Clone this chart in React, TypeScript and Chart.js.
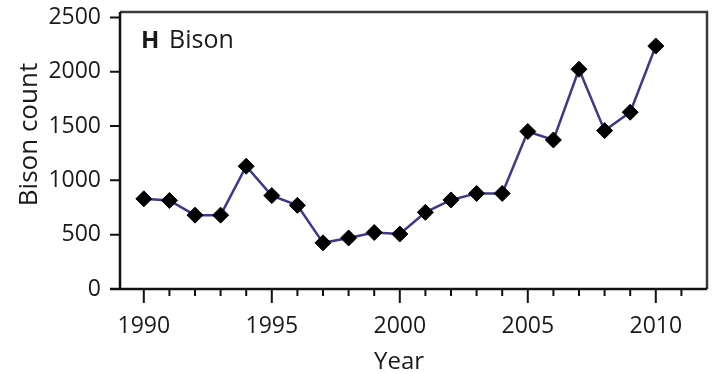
import React, { useEffect, useRef } from "react";
import { Chart, registerables } from "chart.js";

Chart.register(...registerables);

const years = [1990, 1991, 1992, 1993, 1994, 1995, 1996, 1997, 1998, 1999, 2000, 2001, 2002, 2003, 2004, 2005, 2006, 2007, 2008, 2009, 2010];
const bisonCount = [830, 815, 680, 680, 1130, 860, 770, 425, 470, 520, 506, 706, 820, 880, 880, 1450, 1372, 2023, 1458, 1627, 2237];
const yTickValues = [0, 500, 1000, 1500, 2000, 2500];
const xTickYears = [1990, 1991, 1992, 1993, 1994, 1995, 1996, 1997, 1998, 1999, 2000, 2001, 2002, 2003, 2004, 2005, 2006, 2007, 2008, 2009, 2010, 2011];
const xLabelYears = [1990, 1995, 2000, 2005, 2010];
const panelLetter = "H";
const panelName = "Bison";
const xTitle = "Year";
const yTitle = "Bison count";

const FONT = "'Open Sans', 'Noto Sans', sans-serif";

const decorPlugin = {
  id: "decor",
  beforeDatasetsDraw(chart: any) {
    const { ctx, chartArea } = chart;
    const xs = chart.scales.x;
    const ys = chart.scales.y;
    const { left, right, top, bottom } = chartArea;
    ctx.save();
    ctx.strokeStyle = "#3a3a3a";
    ctx.lineWidth = 2.5;
    ctx.beginPath();
    ctx.moveTo(left, top);
    ctx.lineTo(right, top);
    ctx.lineTo(right, bottom);
    ctx.stroke();
    ctx.strokeStyle = "#111";
    ctx.lineWidth = 2.5;
    ctx.beginPath();
    ctx.moveTo(left - 10, bottom);
    ctx.lineTo(right, bottom);
    ctx.moveTo(left, bottom);
    ctx.lineTo(left, top);
    ctx.stroke();
    ctx.lineWidth = 2;
    ctx.beginPath();
    yTickValues.forEach((v) => {
      const y = ys.getPixelForValue(v);
      ctx.moveTo(left - 10, y);
      ctx.lineTo(left, y);
    });
    ctx.stroke();
    ctx.beginPath();
    xTickYears.forEach((yr) => {
      const x = xs.getPixelForValue(yr);
      const len = xLabelYears.includes(yr) ? 14 : 7;
      ctx.moveTo(x, bottom);
      ctx.lineTo(x, bottom + len);
    });
    ctx.stroke();
    ctx.restore();
  },
  afterDraw(chart: any) {
    const { ctx } = chart;
    ctx.save();
    ctx.fillStyle = "#1a1a1a";
    ctx.textBaseline = "alphabetic";
    ctx.textAlign = "left";
    ctx.font = `bold 24px ${FONT}`;
    ctx.fillText(panelLetter, 141, 48);
    ctx.font = `25px ${FONT}`;
    ctx.fillText(panelName, 169, 48);
    ctx.textAlign = "center";
    ctx.font = `24px ${FONT}`;
    ctx.fillText(xTitle, 399, 369);
    ctx.translate(37, 134.5);
    ctx.rotate(-Math.PI / 2);
    ctx.font = `26px ${FONT}`;
    ctx.fillText(yTitle, 0, 0);
    ctx.restore();
  },
};

export default function App() {
  const ref = useRef<HTMLCanvasElement | null>(null);
  useEffect(() => {
    if (!ref.current) return;
    const chart = new Chart(ref.current, {
      type: "line",
      data: {
        datasets: [
          {
            data: years.map((yr, i) => ({ x: yr, y: bisonCount[i] })),
            borderColor: "#3c398c",
            borderWidth: 2.5,
            pointStyle: "rectRot",
            pointRadius: 8,
            pointBackgroundColor: "#000",
            pointBorderColor: "#000",
            pointBorderWidth: 1,
            tension: 0,
          },
        ],
      },
      options: {
        responsive: false,
        animation: false,
        events: [],
        layout: { padding: { left: 0, right: 10, top: 12, bottom: 0 } },
        plugins: { legend: { display: false }, tooltip: { enabled: false } },
        scales: {
          x: {
            type: "linear",
            min: 1989.07,
            max: 2012,
            afterFit: (s: any) => {
              s.height = 84;
              s.paddingLeft = 0;
              s.paddingRight = 0;
            },
            afterBuildTicks: (s: any) => {
              s.ticks = xTickYears.map((v) => ({ value: v }));
            },
            ticks: {
              autoSkip: false,
              maxRotation: 0,
              padding: 24,
              color: "#1a1a1a",
              font: { family: FONT, size: 23 },
              callback: (v: any) => (xLabelYears.includes(v) ? String(v) : ""),
            },
            grid: { display: false, drawTicks: false },
            border: { display: false },
          },
          y: {
            min: 0,
            max: 2550,
            afterFit: (s: any) => {
              s.width = 120;
              s.paddingTop = 0;
              s.paddingBottom = 0;
            },
            afterBuildTicks: (s: any) => {
              s.ticks = yTickValues.map((v) => ({ value: v }));
            },
            ticks: {
              padding: 19,
              color: "#1a1a1a",
              font: { family: FONT, size: 23 },
              callback: (v: any) => String(v),
            },
            grid: { display: false, drawTicks: false },
            border: { display: false },
          },
        },
      },
      plugins: [decorPlugin],
    });
    return () => chart.destroy();
  }, []);
  return (
    <div style={{ position: "absolute", left: 0, top: 0, width: 717, height: 373, background: "#fff" }}>
      <canvas ref={ref} width={717} height={373} style={{ display: "block" }} />
    </div>
  );
}
